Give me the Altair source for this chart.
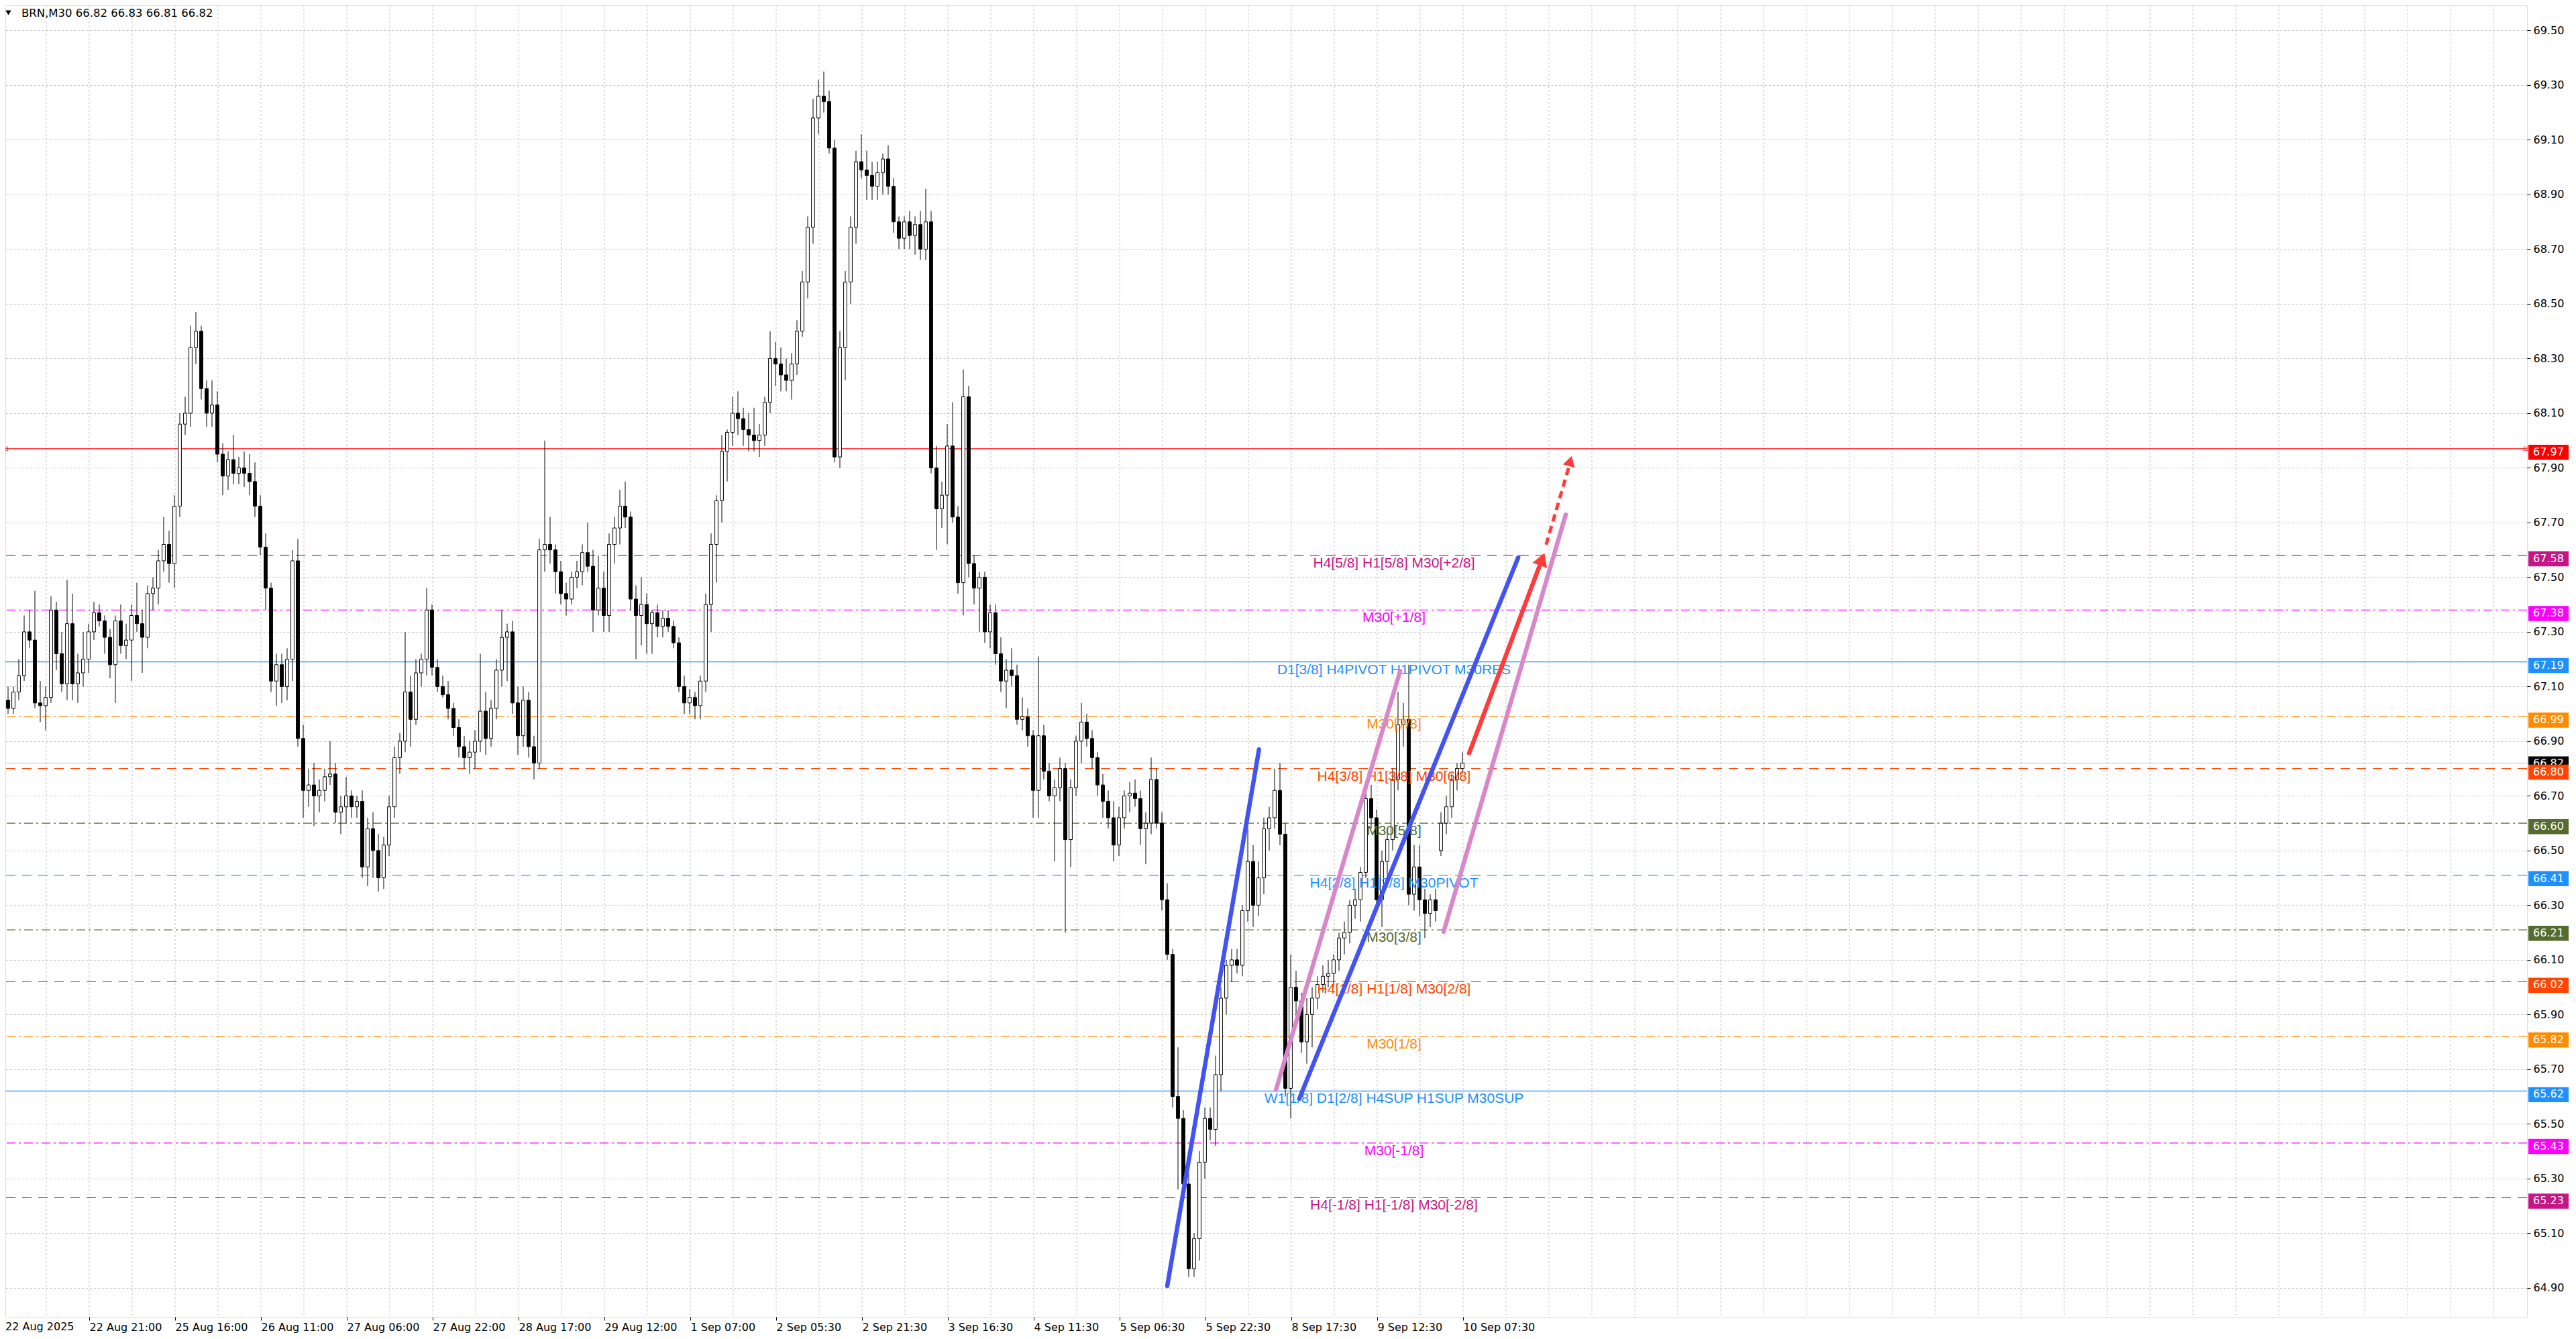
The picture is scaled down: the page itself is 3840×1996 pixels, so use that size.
import json
import altair as alt
import pandas as pd

# ---------------- data ----------------
opens = [
    66.97, 67.05, 67.02, 67.08, 67.14, 67.30, 67.27, 67.04, 67.03, 67.06,
    67.38, 67.22, 67.11, 67.33, 67.11, 67.15, 67.20, 67.30, 67.37, 67.34,
    67.28, 67.18, 67.34, 67.25, 67.27, 67.36, 67.33, 67.28, 67.44, 67.46,
    67.56, 67.62, 67.55, 67.76, 68.06, 68.10, 68.34, 68.40, 68.19, 68.10,
    68.13, 67.95, 67.87, 67.93, 67.88, 67.90, 67.88, 67.85, 67.76, 67.61,
    67.46, 67.12, 67.18, 67.10, 67.20, 67.56, 66.91, 66.72, 66.74, 66.70,
    66.72, 66.77, 66.78, 66.64, 66.66, 66.70, 66.66, 66.68, 66.44, 66.58,
    66.50, 66.40, 66.52, 66.66, 66.84, 66.90, 67.08, 66.98, 67.15, 67.20,
    67.38, 67.17, 67.10, 67.07, 67.02, 66.95, 66.88, 66.84, 66.86, 66.90,
    67.01, 66.91, 67.02, 67.16, 67.28, 67.30, 67.04, 66.92, 67.05, 66.88,
    66.82, 67.60, 67.62, 67.60, 67.52, 67.44, 67.42, 67.50, 67.52, 67.59,
    67.54, 67.38, 67.46, 67.36, 67.62, 67.68, 67.76, 67.72, 67.42, 67.36,
    67.40, 67.33, 67.37, 67.32, 67.35, 67.32, 67.26, 67.10, 67.04, 67.06,
    67.03, 67.12, 67.40, 67.62, 67.78, 67.96, 68.03, 68.10, 68.08, 68.04,
    68.02, 68.00, 68.02, 68.14, 68.30, 68.28, 68.24, 68.22, 68.28, 68.40,
    68.58, 68.78, 69.18, 69.26, 69.24, 69.07, 67.94, 68.34, 68.58, 68.78,
    69.02, 68.99, 68.97, 68.93, 68.98, 69.03, 68.93, 68.80, 68.74, 68.80,
    68.75, 68.79, 68.70, 68.80, 67.90, 67.75, 67.80, 67.98, 67.72, 67.48,
    68.16, 67.55, 67.46, 67.50, 67.30, 67.37, 67.22, 67.12, 67.16, 67.14,
    66.98, 66.99, 66.92, 66.72, 66.92, 66.79, 66.70, 66.73, 66.80, 66.54,
    66.73, 66.90, 66.97, 66.91, 66.84, 66.74, 66.68, 66.62, 66.52, 66.62,
    66.70, 66.71, 66.69, 66.58, 66.60, 66.76, 66.60, 66.32, 66.12, 65.60,
    65.52, 65.28, 64.97, 65.08, 65.36, 65.52, 65.48, 65.68, 65.96, 66.08,
    66.10, 66.08, 66.28, 66.46, 66.30, 66.40, 66.58, 66.62, 66.72, 66.56,
    65.63, 66.00, 65.95, 65.80, 65.90, 65.96, 66.01, 66.04, 66.05, 66.10,
    66.18, 66.20, 66.30, 66.32, 66.42, 66.69, 66.62, 66.32, 66.46, 66.54,
    66.76, 66.96, 66.98, 66.34, 66.44, 66.32, 66.27, 66.32, 66.50, 66.60,
    66.66, 66.76, 66.80,
]
highs = [
    67.08, 67.10, 67.10, 67.20, 67.36, 67.38, 67.45, 67.12, 67.10, 67.43,
    67.41, 67.30, 67.49, 67.44, 67.22, 67.30, 67.33, 67.41, 67.40, 67.36,
    67.31, 67.36, 67.40, 67.33, 67.40, 67.48, 67.38, 67.47, 67.50, 67.60,
    67.72, 67.67, 67.80, 68.10, 68.16, 68.42, 68.47, 68.42, 68.22, 68.22,
    68.18, 67.99, 67.96, 68.02, 67.94, 67.96, 67.95, 67.92, 67.80, 67.66,
    67.48, 67.22, 67.22, 67.24, 67.60, 67.64, 66.96, 66.80, 66.82, 66.76,
    66.80, 66.90, 66.82, 66.70, 66.77, 66.72, 66.70, 66.72, 66.62, 66.64,
    66.56, 66.55, 66.70, 66.88, 66.93, 67.30, 67.14, 67.20, 67.22, 67.46,
    67.40, 67.20, 67.14, 67.12, 67.04, 66.98, 66.92, 66.90, 66.94, 67.22,
    67.08, 67.05, 67.20, 67.38, 67.33, 67.34, 67.10, 67.10, 67.08, 66.92,
    67.64, 68.00, 67.72, 67.62, 67.56, 67.48, 67.52, 67.56, 67.62, 67.70,
    67.60, 67.58, 67.52, 67.66, 67.72, 67.82, 67.85, 67.74, 67.47, 67.50,
    67.44, 67.38, 67.40, 67.38, 67.38, 67.34, 67.28, 67.14, 67.09, 67.08,
    67.14, 67.44, 67.66, 67.80, 68.02, 68.04, 68.16, 68.18, 68.12, 68.10,
    68.12, 68.06, 68.16, 68.40, 68.36, 68.34, 68.30, 68.32, 68.44, 68.62,
    68.82, 69.25, 69.32, 69.35, 69.28, 69.10, 68.40, 68.62, 68.82, 69.06,
    69.12, 69.06, 69.02, 69.02, 69.05, 69.08, 68.96, 68.82, 68.82, 68.84,
    68.82, 68.84, 68.92, 68.84, 67.98, 67.85, 68.06, 68.14, 67.76, 68.26,
    68.20, 67.58, 67.52, 67.52, 67.40, 67.40, 67.28, 67.20, 67.24, 67.18,
    67.06, 67.02, 66.94, 67.21, 66.96, 66.82, 66.76, 66.84, 66.82, 66.76,
    66.92, 67.04, 67.00, 66.94, 66.86, 66.78, 66.72, 66.68, 66.66, 66.72,
    66.75, 66.76, 66.72, 66.64, 66.84, 66.80, 66.64, 66.38, 66.14, 65.78,
    65.55, 65.32, 65.10, 65.40, 65.56, 65.56, 65.75, 66.00, 66.10, 66.14,
    66.14, 66.30, 66.58, 66.52, 66.46, 66.62, 66.66, 66.80, 66.82, 66.60,
    66.12, 66.06, 65.98, 65.96, 66.00, 66.04, 66.08, 66.10, 66.12, 66.20,
    66.24, 66.32, 66.36, 66.44, 66.72, 66.74, 66.65, 66.50, 66.58, 66.80,
    67.08, 67.04, 67.18, 66.52, 66.52, 66.36, 66.34, 66.36, 66.64, 66.70,
    66.78, 66.82, 66.86,
]
lows = [
    66.93, 67.00, 67.00, 67.05, 67.12, 67.24, 67.02, 66.97, 66.94, 67.04,
    67.16, 67.08, 67.05, 67.05, 67.04, 67.10, 67.15, 67.27, 67.32, 67.22,
    67.13, 67.04, 67.22, 67.20, 67.12, 67.30, 67.15, 67.24, 67.38, 67.40,
    67.52, 67.48, 67.46, 67.72, 68.02, 68.05, 68.28, 68.15, 68.05, 68.05,
    67.92, 67.80, 67.82, 67.84, 67.84, 67.83, 67.80, 67.72, 67.58, 67.38,
    67.08, 67.03, 67.04, 67.05, 67.12, 66.88, 66.62, 66.66, 66.59, 66.64,
    66.68, 66.74, 66.60, 66.56, 66.60, 66.62, 66.62, 66.40, 66.37, 66.40,
    66.35, 66.36, 66.48, 66.62, 66.78, 66.86, 66.88, 66.96, 67.10, 67.14,
    67.14, 67.08, 67.06, 66.98, 66.92, 66.84, 66.80, 66.78, 66.80, 66.86,
    66.85, 66.88, 66.98, 67.10, 67.12, 67.00, 66.85, 66.88, 66.84, 66.76,
    66.80, 67.52, 67.55, 67.44, 67.40, 67.36, 67.40, 67.46, 67.47, 67.52,
    67.30, 67.36, 67.30, 67.30, 67.55, 67.62, 67.68, 67.38, 67.20, 67.25,
    67.22, 67.22, 67.28, 67.28, 67.30, 67.24, 67.08, 67.00, 67.00, 66.98,
    66.98, 67.08, 67.30, 67.48, 67.70, 67.85, 67.98, 68.02, 67.98, 67.96,
    67.96, 67.94, 67.98, 68.10, 68.20, 68.18, 68.18, 68.15, 68.24, 68.38,
    68.52, 68.72, 69.12, 69.20, 69.05, 67.92, 67.90, 68.22, 68.50, 68.72,
    68.96, 68.88, 68.88, 68.88, 68.90, 68.90, 68.76, 68.70, 68.70, 68.70,
    68.68, 68.66, 68.66, 67.88, 67.60, 67.68, 67.62, 67.70, 67.44, 67.36,
    67.50, 67.40, 67.30, 67.26, 67.24, 67.18, 67.08, 67.02, 67.10, 66.96,
    66.94, 66.88, 66.62, 66.62, 66.76, 66.68, 66.46, 66.68, 66.20, 66.44,
    66.70, 66.82, 66.88, 66.80, 66.70, 66.62, 66.58, 66.46, 66.48, 66.58,
    66.64, 66.66, 66.52, 66.45, 66.56, 66.58, 66.28, 66.10, 65.56, 65.26,
    65.25, 64.94, 64.94, 65.00, 65.30, 65.44, 65.42, 65.62, 65.90, 66.02,
    66.05, 66.04, 66.24, 66.22, 66.26, 66.34, 66.50, 66.58, 66.52, 65.60,
    65.52, 65.88, 65.76, 65.72, 65.78, 65.92, 65.98, 66.00, 66.00, 66.06,
    66.12, 66.16, 66.25, 66.24, 66.40, 66.58, 66.28, 66.22, 66.40, 66.50,
    66.72, 66.88, 66.30, 66.28, 66.26, 66.18, 66.22, 66.24, 66.48, 66.56,
    66.62, 66.72, 66.78,
]
closes = [
    67.05, 67.02, 67.08, 67.14, 67.30, 67.27, 67.04, 67.03, 67.06, 67.38,
    67.22, 67.11, 67.33, 67.11, 67.15, 67.20, 67.30, 67.37, 67.34, 67.28,
    67.18, 67.34, 67.25, 67.27, 67.36, 67.33, 67.28, 67.44, 67.46, 67.56,
    67.62, 67.55, 67.76, 68.06, 68.10, 68.34, 68.40, 68.19, 68.10, 68.13,
    67.95, 67.87, 67.93, 67.88, 67.90, 67.88, 67.85, 67.76, 67.61, 67.46,
    67.12, 67.18, 67.10, 67.20, 67.56, 66.91, 66.72, 66.74, 66.70, 66.72,
    66.77, 66.78, 66.64, 66.66, 66.70, 66.66, 66.68, 66.44, 66.58, 66.50,
    66.40, 66.52, 66.66, 66.84, 66.90, 67.08, 66.98, 67.15, 67.20, 67.38,
    67.17, 67.10, 67.07, 67.02, 66.95, 66.88, 66.84, 66.86, 66.90, 67.01,
    66.91, 67.02, 67.16, 67.28, 67.30, 67.04, 66.92, 67.05, 66.88, 66.82,
    67.60, 67.62, 67.60, 67.52, 67.44, 67.42, 67.50, 67.52, 67.59, 67.54,
    67.38, 67.46, 67.36, 67.62, 67.68, 67.76, 67.72, 67.42, 67.36, 67.40,
    67.33, 67.37, 67.32, 67.35, 67.32, 67.26, 67.10, 67.04, 67.06, 67.03,
    67.12, 67.40, 67.62, 67.78, 67.96, 68.03, 68.10, 68.08, 68.04, 68.02,
    68.00, 68.02, 68.14, 68.30, 68.28, 68.24, 68.22, 68.28, 68.40, 68.58,
    68.78, 69.18, 69.26, 69.24, 69.07, 67.94, 68.34, 68.58, 68.78, 69.02,
    68.99, 68.97, 68.93, 68.98, 69.03, 68.93, 68.80, 68.74, 68.80, 68.75,
    68.79, 68.70, 68.80, 67.90, 67.75, 67.80, 67.98, 67.72, 67.48, 68.16,
    67.55, 67.46, 67.50, 67.30, 67.37, 67.22, 67.12, 67.16, 67.14, 66.98,
    66.99, 66.92, 66.72, 66.92, 66.79, 66.70, 66.73, 66.80, 66.54, 66.73,
    66.90, 66.97, 66.91, 66.84, 66.74, 66.68, 66.62, 66.52, 66.62, 66.70,
    66.71, 66.69, 66.58, 66.60, 66.76, 66.60, 66.32, 66.12, 65.60, 65.52,
    65.28, 64.97, 65.08, 65.36, 65.52, 65.48, 65.68, 65.96, 66.08, 66.10,
    66.08, 66.28, 66.46, 66.30, 66.40, 66.58, 66.62, 66.72, 66.56, 65.63,
    66.00, 65.95, 65.80, 65.90, 65.96, 66.01, 66.04, 66.05, 66.10, 66.18,
    66.20, 66.30, 66.32, 66.42, 66.69, 66.62, 66.32, 66.46, 66.54, 66.76,
    66.96, 66.98, 66.34, 66.44, 66.32, 66.27, 66.32, 66.28, 66.60, 66.66,
    66.76, 66.80, 66.82,
]

symbol = "BRN,M30"
last_ohlc = [66.82, 66.83, 66.81, 66.82]
current_price = 66.82

level_prices = [67.97, 67.58, 67.38, 67.19, 66.99, 66.80, 66.60,
                66.41, 66.21, 66.02, 65.82, 65.62, 65.43, 65.23]
level_labels = ["", "H4[5/8] H1[5/8] M30[+2/8]", "M30[+1/8]",
                "D1[3/8] H4PIVOT H1PIVOT M30RES", "M30[7/8]",
                "H4[3/8] H1[3/8] M30[6/8]", "M30[5/8]",
                "H4[2/8] H1[2/8] M30PIVOT", "M30[3/8]",
                "H4[1/8] H1[1/8] M30[2/8]", "M30[1/8]",
                "W1[1/8] D1[2/8] H4SUP H1SUP M30SUP", "M30[-1/8]",
                "H4[-1/8] H1[-1/8] M30[-2/8]"]
level_kinds = ["red", "violet", "magenta", "blue", "orange", "orangered", "olive",
               "blue", "olive", "orangered", "orange", "blue", "magenta", "violet"]
level_styles = ["solid", "dash", "dashdot", "solid", "dashdot", "dash", "dashdot",
                "dash", "dashdot", "dash", "dashdot", "solid", "dashdot", "dash"]

first_time_label = "22 Aug 2025"
time_labels = ["22 Aug 21:00", "25 Aug 16:00", "26 Aug 11:00",
               "27 Aug 06:00", "27 Aug 22:00", "28 Aug 17:00", "29 Aug 12:00",
               "1 Sep 07:00", "2 Sep 05:30", "2 Sep 21:30", "3 Sep 16:30",
               "4 Sep 11:30", "5 Sep 06:30", "5 Sep 22:30", "8 Sep 17:30",
               "9 Sep 12:30", "10 Sep 07:30"]
price_ticks = [64.90, 65.10, 65.30, 65.50, 65.70, 65.90, 66.10, 66.30,
               66.50, 66.70, 66.90, 67.10, 67.30, 67.50, 67.70, 67.90,
               68.10, 68.30, 68.50, 68.70, 68.90, 69.10, 69.30, 69.50]

trend_names = ["blue1", "blue1", "blue2", "blue2", "pink1", "pink1",
               "pink2", "pink2", "red", "red"]
trend_bars = [217.0, 234.1, 241.6, 282.4, 237.25, 260.4, 268.5, 291.25, 273.25, 286.46]
trend_prices = [64.907, 66.870, 65.592, 67.572, 65.624, 67.157, 66.203, 67.729, 66.856, 67.546]
dash_bars = [287.6, 291.9]
dash_prices = [67.619, 67.908]
head_bars = [286.85, 292.1]
head_prices = [67.566, 67.925]
head_angles = [20.6, 16.0]

# ---------------- styles / geometry ----------------
W, H = 3759, 1955
X_DOMAIN = [0.5, 470.375]
Y_DOMAIN = [64.794, 69.592]
PX = H / (Y_DOMAIN[1] - Y_DOMAIN[0])  # pixels per price unit

KIND_COLOR = {"red": "#FF0000", "violet": "#C71585", "magenta": "#FF00FF",
              "blue": "#1E90FF", "orange": "#FF8C00", "orangered": "#FF4500",
              "olive": "#556B2F"}
TREND_COLOR = {"blue1": "#4353F3", "blue2": "#4353F3", "pink1": "#D987CB",
               "pink2": "#D987CB", "red": "#FF3B3B"}
AX_FONT = "DejaVu Sans"
LBL_FONT = "Liberation Sans"

xs = alt.Scale(domain=X_DOMAIN, nice=False, zero=False)
ys = alt.Scale(domain=Y_DOMAIN, nice=False, zero=False)

TICK0, TICK_STEP = 16.125, 16
tick_pos = [TICK0 + TICK_STEP * m for m in range(len(time_labels))]
label_expr = f"{json.dumps(time_labels)}[round((datum.value - {TICK0}) / {TICK_STEP})]"

X_AX = alt.Axis(orient="bottom", values=tick_pos, labelExpr=label_expr, title=None,
                grid=False, domain=False, ticks=True, tickColor="black", tickSize=5,
                labelAlign="left", labelBaseline="top", labelPadding=2,
                labelFont=AX_FONT, labelFontSize=16, labelColor="black",
                labelOverlap=False, labelFlush=False, labelBound=False)
Y_AX = alt.Axis(orient="right", values=price_ticks, format=".2f", title=None,
                grid=True, gridColor="#C4C4C4", gridDash=[3, 3], gridWidth=1,
                domain=False, ticks=True, tickColor="black", tickSize=5,
                labelFont=AX_FONT, labelFontSize=16, labelColor="black",
                labelPadding=4, labelOverlap=False, labelBound=False, labelFlush=False)

# ---------------- tables ----------------
bars = pd.DataFrame({"i": list(range(len(closes))), "o": opens, "h": highs,
                     "l": lows, "c": closes})
levels = pd.DataFrame({"p": level_prices, "t": level_labels,
                       "col": [KIND_COLOR[k] for k in level_kinds],
                       "dash": level_styles})
levels["top"] = levels["p"] + 6 / PX
levels["bot"] = levels["p"] - 16.5 / PX
levels["mid"] = levels["p"] - 5 / PX
levels["txt"] = levels["p"].map(lambda v: f"{v:.2f}")
cur = pd.DataFrame({"p": [current_price]})
cur["top"] = cur["p"] + 10 / PX
cur["bot"] = cur["p"] - 12 / PX
cur["mid"] = cur["p"] - 1 / PX
cur["txt"] = cur["p"].map(lambda v: f"{v:.2f}")
grid = pd.DataFrame({"g": [0.125 + 8 * m for m in range(1, 59)]})
trends = pd.DataFrame({"id": trend_names, "k": trend_bars, "p": trend_prices,
                       "col": [TREND_COLOR[n] for n in trend_names]})
dashed = pd.DataFrame({"k": dash_bars, "p": dash_prices})
heads = pd.DataFrame({"k": head_bars, "p": head_prices, "a": head_angles,
                      "s": [520, 330]})
red_marks = pd.DataFrame({"k": [0.6, 470.1], "p": [level_prices[0]] * 2})
header = pd.DataFrame({"t": [symbol + "  " + " ".join(f"{v:.2f}" for v in last_ohlc)]})
first_lbl = pd.DataFrame({"t": [first_time_label]})

# ---------------- layers ----------------
vgrid = alt.Chart(grid).mark_rule(color="#C4C4C4", strokeDash=[3, 3], strokeWidth=1).encode(
    x=alt.X("g:Q", scale=xs, axis=X_AX))

level_lines = alt.Chart(levels).mark_rule(strokeWidth=1.3).encode(
    y=alt.Y("p:Q", scale=ys, axis=Y_AX),
    stroke=alt.Stroke("col:N", scale=None),
    strokeDash=alt.StrokeDash("dash:N", legend=None,
                              scale=alt.Scale(domain=["solid", "dash", "dashdot"],
                                              range=[[1, 0], [14, 10], [13, 5, 3, 5]])))

cur_line = alt.Chart(cur).mark_rule(color="#BEBEBE", strokeWidth=1.2).encode(
    y=alt.Y("p:Q", scale=ys, axis=Y_AX))

wicks = alt.Chart(bars).mark_rule(color="black", strokeWidth=1).encode(
    x=alt.X("i:Q", scale=xs, axis=X_AX),
    y=alt.Y("l:Q", scale=ys, axis=Y_AX), y2="h:Q")

bodies = alt.Chart(bars).transform_calculate(
    x0="datum.i - 0.3", x1="datum.i + 0.3").mark_rect(
    stroke="black", strokeWidth=1).encode(
    x=alt.X("x0:Q", scale=xs, axis=X_AX), x2="x1:Q",
    y=alt.Y("o:Q", scale=ys, axis=Y_AX), y2="c:Q",
    fill=alt.condition("datum.c >= datum.o", alt.value("white"), alt.value("black")))

level_text = alt.Chart(levels).mark_text(
    font=LBL_FONT, fontSize=21, align="center", baseline="middle", dy=12).encode(
    x=alt.value(2070), y=alt.Y("p:Q", scale=ys, axis=Y_AX),
    text="t:N", color=alt.Color("col:N", scale=None))

trend_lines = alt.Chart(trends).mark_line(strokeWidth=6.5, strokeCap="round").encode(
    x=alt.X("k:Q", scale=xs, axis=X_AX), y=alt.Y("p:Q", scale=ys, axis=Y_AX),
    detail="id:N", stroke=alt.Stroke("col:N", scale=None))

dash_line = alt.Chart(dashed).mark_line(strokeWidth=5, color="#FF3B3B",
                                        strokeDash=[11, 7]).encode(
    x=alt.X("k:Q", scale=xs, axis=X_AX), y=alt.Y("p:Q", scale=ys, axis=Y_AX))

arrow_heads = alt.Chart(heads).mark_point(shape="triangle-up", filled=True,
                                          color="#FF3B3B", opacity=1).encode(
    x=alt.X("k:Q", scale=xs, axis=X_AX), y=alt.Y("p:Q", scale=ys, axis=Y_AX),
    angle=alt.Angle("a:Q", scale=None), size=alt.Size("s:Q", scale=None))

red_sq = alt.Chart(red_marks).mark_square(filled=False, color="#FF0000", size=30,
                                          strokeWidth=1).encode(
    x=alt.X("k:Q", scale=xs, axis=X_AX), y=alt.Y("p:Q", scale=ys, axis=Y_AX))

cur_box = alt.Chart(cur).mark_rect(color="black").encode(
    x=alt.value(3761), x2=alt.value(3821),
    y=alt.Y("top:Q", scale=ys, axis=Y_AX), y2="bot:Q")
cur_txt = alt.Chart(cur).mark_text(font=AX_FONT, fontSize=16, color="white",
                                   align="left", baseline="middle").encode(
    x=alt.value(3768), y=alt.Y("mid:Q", scale=ys, axis=Y_AX), text="txt:N")

box = alt.Chart(levels).mark_rect().encode(
    x=alt.value(3761), x2=alt.value(3821),
    y=alt.Y("top:Q", scale=ys, axis=Y_AX), y2="bot:Q",
    fill=alt.Fill("col:N", scale=None))
box_txt = alt.Chart(levels).mark_text(font=AX_FONT, fontSize=16, color="white",
                                      align="left", baseline="middle").encode(
    x=alt.value(3768), y=alt.Y("mid:Q", scale=ys, axis=Y_AX), text="txt:N")

first_txt = alt.Chart(first_lbl).mark_text(font=AX_FONT, fontSize=16, color="black",
                                           align="left", baseline="top").encode(
    x=alt.value(0), y=alt.value(H + 7), text="t:N")

head_txt = alt.Chart(header).mark_text(font=AX_FONT, fontSize=16.5, color="black",
                                       align="left", baseline="middle").encode(
    x=alt.value(24), y=alt.value(12), text="t:N")
head_tri = alt.Chart(header).mark_point(shape="triangle-down", filled=True,
                                        color="black", size=70, opacity=1).encode(
    x=alt.value(4.5), y=alt.value(11))

chart = alt.layer(
    vgrid, level_lines, cur_line, wicks, bodies, level_text, red_sq,
    trend_lines, dash_line, arrow_heads,
    cur_box, cur_txt, box, box_txt, first_txt, head_txt, head_tri,
).properties(
    width=W, height=H,
    padding={"left": 0, "top": 0, "right": 62, "bottom": 24},
    autosize=alt.AutoSizeParams(type="none"),
).configure_view(stroke="black", strokeWidth=1).configure(background="white")

chart.save("out.html", embed_options={"renderer": "svg", "actions": False})
